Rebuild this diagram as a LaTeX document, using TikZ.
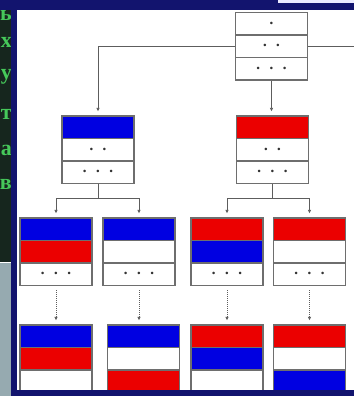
\documentclass[tikz,border=0pt]{standalone}
\usepackage{fontspec}
\newfontfamily\cyrfont{Liberation Serif}
\usetikzlibrary{arrows.meta}

\definecolor{navy}{RGB}{18,20,110}
\definecolor{flagblue}{RGB}{0,0,225}
\definecolor{flagred}{RGB}{235,0,0}
\definecolor{lettergreen}{RGB}{70,200,90}
\definecolor{stripdark}{RGB}{22,38,30}
\definecolor{stripgray}{RGB}{150,170,176}
\definecolor{boxgray}{RGB}{110,110,110}

\newcommand{\gap}{\hspace{6pt}}
\newcommand{\onept}{\textbullet}
\newcommand{\twopt}{\textbullet\gap\textbullet}
\newcommand{\threept}{\textbullet\gap\textbullet\gap\textbullet}
% three stacked rows: name, x, y of top row, fill/text list
\newcommand{\tribox}[4]{%
  \foreach \rc/\rt [count=\i] in {#4}
    \node[row,fill=\rc] (#1\i) at (#2,{#3+(\i-1)*22.5}) {\rt};}

\tikzset{
  row/.style={draw=boxgray,line width=1.2pt,minimum width=72pt,minimum height=22.5pt,
    inner sep=0pt,font=\small,text=gray!40!black},
  link/.style={draw=boxgray!85!black,line width=1pt,-{Latex[length=3.5pt,width=3.5pt]},shorten >=4pt},
  plain/.style={draw=boxgray!85!black,line width=1pt},
  letter/.style={anchor=east,inner sep=0pt,text=lettergreen,
    font=\cyrfont\bfseries\fontsize{22}{22}\selectfont}
}

\begin{document}
\begin{tikzpicture}[x=1pt,y=-1pt]
\useasboundingbox (0,0) rectangle (354,396);
\fill[white] (0,0) rectangle (354,396);
% left strip with cut letters
\fill[stripdark] (0,0) rectangle (11,262);
\fill[stripgray] (0,263) rectangle (11,396);
\foreach \l/\y in {ь/15, х/42, у/77, т/114, а/150, в/184}
  \node[letter] (l\y) at (12,\y) {\l};

% boxes
\tribox{z}{271.5}{23.75}{white/\onept, white/\twopt, white/\threept}
\tribox{a}{98}{127.25}{flagblue/{}, white/\twopt, white/\threept}
\tribox{d}{272.5}{127.25}{flagred/{}, white/\twopt, white/\threept}
\tribox{b}{56}{229.25}{flagblue/{}, flagred/{}, white/\threept}
\tribox{c}{139}{229.25}{flagblue/{}, white/{}, white/\threept}
\tribox{e}{227}{229.25}{flagred/{}, flagblue/{}, white/\threept}
\tribox{f}{309.5}{229.25}{flagred/{}, white/{}, white/\threept}
\tribox{g}{56}{336.25}{flagblue/{}, flagred/{}, white/{}}
\tribox{h}{143.5}{336.25}{flagblue/{}, white/{}, flagred/{}}
\tribox{k}{227}{336.25}{flagred/{}, flagblue/{}, white/{}}
\tribox{m}{309.5}{336.25}{flagred/{}, white/{}, flagblue/{}}

% connectors
\coordinate (out) at (354,46.25);
\coordinate (aj) at (98,198);
\coordinate (dj) at (272.5,198);
\draw[link] (z2.west) -| (a1.north);
\draw[plain] (z2.east) -- (out);
\draw[link] (z3.south) -- (z3.south |- d1.north);
\draw[plain] (a3.south) -- (aj);
\draw[link] (aj) -| (b1.north);
\draw[link] (aj) -| (c1.north);
\draw[plain] (d3.south) -- (dj);
\draw[link] (dj) -| (e1.north);
\draw[link] (dj) -| (f1.north);
\draw[link,densely dotted,shorten <=4pt] (b3.south) -- (g1.north);
\draw[link,densely dotted,shorten <=4pt] (c3.south) -- (c3.south |- h1.north);
\draw[link,densely dotted,shorten <=4pt] (e3.south) -- (k1.north);
\draw[link,densely dotted,shorten <=4pt] (f3.south) -- (m1.north);

% frame
\fill[navy] (11,0) rectangle (17,396);
\fill[navy] (0,0) rectangle (278,10);
\fill[navy] (278,3) rectangle (354,10);
\fill[blue!8] (278,0) rectangle (354,3);
\fill[navy] (11,390) rectangle (354,396);
\end{tikzpicture}
\end{document}
